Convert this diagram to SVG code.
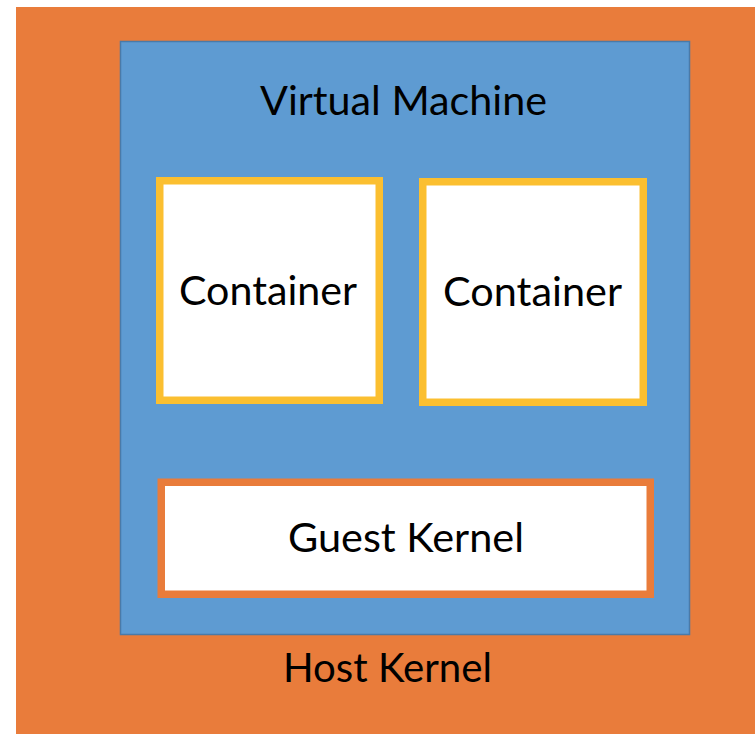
<svg xmlns="http://www.w3.org/2000/svg" width="755" height="734" viewBox="0 0 755 734">
  <style>
    .lbl { font-family: Lato, "Noto Sans", "DejaVu Sans", sans-serif; font-size: 40px; fill: #000; text-anchor: middle; }
    .box { fill: #ffffff; }
    .ctr { stroke: #fbbf30; stroke-width: 7.5; }
    .krn { stroke: #e97c3b; stroke-width: 7.5; }
  </style>
  <rect width="755" height="734" fill="#ffffff"/>

  <g id="host-kernel">
    <rect x="16" y="7" width="739" height="727" fill="#e97c3b"/>
    <text class="lbl" x="387.5" y="682" textLength="209" lengthAdjust="spacingAndGlyphs">Host Kernel</text>
  </g>

  <g id="virtual-machine">
    <rect x="120.5" y="41.5" width="569" height="593" fill="#5e9bd2" stroke="#4a7aa8" stroke-width="1.5"/>
    <text class="lbl" x="403.5" y="115" textLength="287" lengthAdjust="spacingAndGlyphs">Virtual Machine</text>
  </g>

  <g id="container-1">
    <rect class="box ctr" x="159.75" y="180.75" width="219.5" height="219.5"/>
    <text class="lbl" x="268" y="305" textLength="178" lengthAdjust="spacingAndGlyphs">Container</text>
  </g>

  <g id="container-2">
    <rect class="box ctr" x="422.75" y="181.75" width="220.5" height="220.5"/>
    <text class="lbl" x="532.5" y="306" textLength="179" lengthAdjust="spacingAndGlyphs">Container</text>
  </g>

  <g id="guest-kernel">
    <rect class="box krn" x="161.25" y="482.25" width="489" height="112"/>
    <text class="lbl" x="406" y="552" textLength="236" lengthAdjust="spacingAndGlyphs">Guest Kernel</text>
  </g>

  <g id="connectors"/>
</svg>
